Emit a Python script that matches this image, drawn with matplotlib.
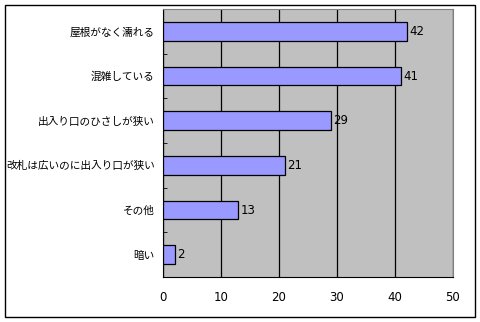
import matplotlib.pyplot as plt
from matplotlib.patches import Rectangle
import numpy as np

plt.rcParams['font.family'] = ['Noto Sans CJK JP', 'DejaVu Sans']

# data (top to bottom)
labels = ["屋根がなく濡れる", "混雑している", "出入り口のひさしが狭い",
          "改札は広いのに出入り口が狭い", "その他", "暗い"]
values = [42, 41, 29, 21, 13, 2]

fig = plt.figure(figsize=(4.8, 3.22), dpi=100)
W, H = 480, 322
ax = fig.add_axes([163/W, 1-277/H, 290/W, 268/H])

y = np.arange(len(labels))
ax.set_facecolor("#C0C0C0")
ax.barh(y, values, height=0.42, color="#9999FF", edgecolor="black", linewidth=0.9, zorder=3)
for yi, v in zip(y, values):
    ax.text(v + 0.4, yi, str(v), va="center", ha="left", fontsize=8.5, family="DejaVu Sans")

ax.set_xlim(0, 50)
ax.set_ylim(len(labels) - 0.5, -0.5)
ax.set_xticks(np.arange(0, 51, 10))
ax.set_yticks(y)
ax.set_yticklabels(labels, fontsize=7.7)
ax.set_yticks(np.arange(0.5, len(labels) - 0.5, 1), minor=True)
ax.tick_params(axis="y", which="major", length=0, pad=6)
ax.tick_params(axis="y", which="minor", length=3, direction="in", color="black")
ax.tick_params(axis="x", length=0, pad=10, labelsize=8.5)
for t in ax.get_xticklabels():
    t.set_family("DejaVu Sans")
ax.grid(axis="x", color="black", linewidth=0.9, zorder=1)
ax.set_axisbelow(True)
for s in ["left", "bottom"]:
    ax.spines[s].set_color("black")
for s in ["top", "right"]:
    ax.spines[s].set_color("#808080")

fig.patches.append(Rectangle((5/W, 5/H), 470/W, 312/H, transform=fig.transFigure,
                             fill=False, edgecolor="black", linewidth=1))
fig.savefig("out.png", dpi=100)
